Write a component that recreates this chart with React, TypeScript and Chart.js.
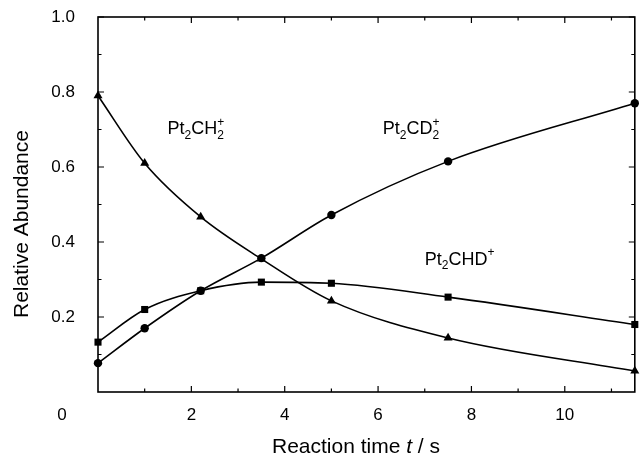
import React, { useEffect, useRef } from 'react';
import { Chart, registerables } from 'chart.js';

Chart.register(...registerables);

// ---- data ----
const reactionTimes = [0, 1, 2.2, 3.5, 5, 7.5, 11.5];
const pt2CH2 = [0.79, 0.61, 0.467, 0.355, 0.243, 0.144, 0.056];
const pt2CD2 = [0.077, 0.17, 0.27, 0.357, 0.472, 0.615, 0.77];
const pt2CHD = [0.133, 0.22, 0.27, 0.293, 0.29, 0.253, 0.18];

const xMajorTicks = [2, 4, 6, 8, 10];
const xMinorTicks = [1, 3, 5, 7, 9, 11];
const yMajorTicks = [0.2, 0.4, 0.6, 0.8, 1.0];
const yMinorTicks = [0.1, 0.3, 0.5, 0.7, 0.9];
const X_MIN = 0;
const X_MAX = 11.5;
const Y_MIN = 0;
const Y_MAX = 1;

const xTitle = ['Reaction time ', 't', ' / s'];
const yTitle = 'Relative Abundance';
const originLabel = '0';

type Part = { t: string; sub?: boolean; sup?: boolean };
const labelCH2: Part[] = [{ t: 'Pt' }, { t: '2', sub: true }, { t: 'CH' }, { t: '2', sub: true }, { t: '+', sup: true }];
const labelCD2: Part[] = [{ t: 'Pt' }, { t: '2', sub: true }, { t: 'CD' }, { t: '2', sub: true }, { t: '+', sup: true }];
const labelCHD: Part[] = [{ t: 'Pt' }, { t: '2', sub: true }, { t: 'CHD' }, { t: '+', sup: true }];
const annotations: { parts: Part[]; x: number; y: number }[] = [
  { parts: labelCH2, x: 1.49, y: 0.7 },
  { parts: labelCD2, x: 6.1, y: 0.7 },
  { parts: labelCHD, x: 7.0, y: 0.352 },
];

const FONT = '"Liberation Sans", Arial, Helvetica, sans-serif';
const TITLE_SIZE = 21;

function drawChem(ctx: CanvasRenderingContext2D, parts: Part[], x: number, y: number) {
  ctx.textBaseline = 'middle';
  ctx.textAlign = 'left';
  let cx = x;
  let i = 0;
  while (i < parts.length) {
    const p = parts[i];
    if (!p.sub && !p.sup) {
      ctx.font = `18px ${FONT}`;
      ctx.fillText(p.t, cx, y);
      cx += ctx.measureText(p.t).width;
      i++;
    } else {
      let w = 0;
      while (i < parts.length && (parts[i].sub || parts[i].sup)) {
        const q = parts[i];
        ctx.font = `12px ${FONT}`;
        ctx.fillText(q.t, cx, q.sub ? y + 6 : y - 7);
        w = Math.max(w, ctx.measureText(q.t).width);
        i++;
      }
      cx += w;
    }
  }
}

const framePlugin = {
  id: 'framePlugin',
  beforeDatasetsDraw(chart: any) {
    const { ctx, chartArea: a, scales } = chart;
    const xs = scales.x;
    const ys = scales.y;
    ctx.save();
    ctx.strokeStyle = '#000';
    ctx.lineWidth = 1.6;
    ctx.strokeRect(a.left, a.top, a.right - a.left, a.bottom - a.top);
    ctx.lineWidth = 1.2;
    const tick = (vals: number[], len: number) => {
      vals.forEach((v) => {
        const px = xs.getPixelForValue(v);
        ctx.beginPath();
        ctx.moveTo(px, a.bottom);
        ctx.lineTo(px, a.bottom - len);
        ctx.moveTo(px, a.top);
        ctx.lineTo(px, a.top + len);
        ctx.stroke();
      });
    };
    const tickY = (vals: number[], len: number) => {
      vals.forEach((v) => {
        const py = ys.getPixelForValue(v);
        ctx.beginPath();
        ctx.moveTo(a.left, py);
        ctx.lineTo(a.left + len, py);
        ctx.moveTo(a.right, py);
        ctx.lineTo(a.right - len, py);
        ctx.stroke();
      });
    };
    tick(xMajorTicks, 6);
    tick(xMinorTicks, 3.5);
    tickY(yMajorTicks, 6);
    tickY(yMinorTicks, 3.5);
    ctx.restore();
  },
  afterDraw(chart: any) {
    const { ctx, chartArea: a, scales } = chart;
    const xs = scales.x;
    const ys = scales.y;
    ctx.save();
    ctx.fillStyle = '#000';
    ctx.font = `17px ${FONT}`;
    ctx.textAlign = 'center';
    ctx.textBaseline = 'middle';
    ctx.fillText(originLabel, a.left - 36, a.bottom + 23);
    const sizes = xTitle.map((s, idx) => {
      ctx.font = `${idx === 1 ? 'italic ' : ''}${TITLE_SIZE}px ${FONT}`;
      return ctx.measureText(s).width;
    });
    const total = sizes.reduce((s, v) => s + v, 0);
    let cx = 356 - total / 2;
    ctx.textAlign = 'left';
    xTitle.forEach((s, idx) => {
      ctx.font = `${idx === 1 ? 'italic ' : ''}${TITLE_SIZE}px ${FONT}`;
      ctx.fillText(s, cx, 447);
      cx += sizes[idx];
    });
    ctx.translate(22, 224);
    ctx.rotate(-Math.PI / 2);
    ctx.textAlign = 'center';
    ctx.font = `${TITLE_SIZE}px ${FONT}`;
    ctx.fillText(yTitle, 0, 0);
    ctx.setTransform(1, 0, 0, 1, 0, 0);
    annotations.forEach((an) => {
      drawChem(ctx, an.parts, xs.getPixelForValue(an.x), ys.getPixelForValue(an.y));
    });
    ctx.restore();
  },
};

function makeDataset(label: string, values: number[], style: string, radius: number) {
  return {
    label,
    data: reactionTimes.map((t, i) => ({ x: t, y: values[i] })),
    borderColor: '#000',
    backgroundColor: '#000',
    borderWidth: 1.6,
    pointStyle: style,
    pointRadius: radius,
    pointBorderWidth: 0,
    pointBackgroundColor: '#000',
    cubicInterpolationMode: 'monotone' as const,
    showLine: true,
    clip: false as any,
  };
}

export default function App() {
  const ref = useRef<HTMLCanvasElement | null>(null);
  useEffect(() => {
    if (!ref.current) return;
    const chart = new Chart(ref.current, {
      type: 'scatter',
      data: {
        datasets: [
          makeDataset('Pt2CH2+', pt2CH2, 'triangle', 5.2),
          makeDataset('Pt2CD2+', pt2CD2, 'circle', 4.2),
          makeDataset('Pt2CHD+', pt2CHD, 'rect', 5),
        ],
      },
      options: {
        responsive: false,
        animation: false,
        devicePixelRatio: 1,
        layout: { padding: { left: 0, right: 2, top: 17, bottom: 0 } },
        plugins: { legend: { display: false }, tooltip: { enabled: false } },
        scales: {
          x: {
            type: 'linear',
            min: X_MIN,
            max: X_MAX,
            grid: { display: false, drawTicks: false },
            border: { display: false },
            afterBuildTicks: (s: any) => {
              s.ticks = xMajorTicks.map((v) => ({ value: v }));
            },
            afterFit: (s: any) => {
              s.height = 68;
              s.paddingLeft = 0;
              s.paddingRight = 0;
            },
            ticks: {
              color: '#000',
              padding: 13,
              font: { family: FONT, size: 17 },
              maxRotation: 0,
              autoSkip: false,
              callback: (v: any) => String(v),
            },
          },
          y: {
            type: 'linear',
            min: Y_MIN,
            max: Y_MAX,
            grid: { display: false, drawTicks: false },
            border: { display: false },
            afterBuildTicks: (s: any) => {
              s.ticks = yMajorTicks.map((v) => ({ value: v }));
            },
            afterFit: (s: any) => {
              s.width = 98;
              s.paddingTop = 0;
              s.paddingBottom = 0;
            },
            ticks: {
              color: '#000',
              padding: 23,
              font: { family: FONT, size: 17 },
              autoSkip: false,
              callback: (v: any) => Number(v).toFixed(1),
            },
          },
        },
      },
      plugins: [framePlugin],
    });
    return () => chart.destroy();
  }, []);
  return (
    <div style={{ position: 'fixed', left: 0, top: 0, width: 640, height: 460, background: '#fff' }}>
      <canvas ref={ref} width={640} height={460} style={{ display: 'block' }} />
    </div>
  );
}
